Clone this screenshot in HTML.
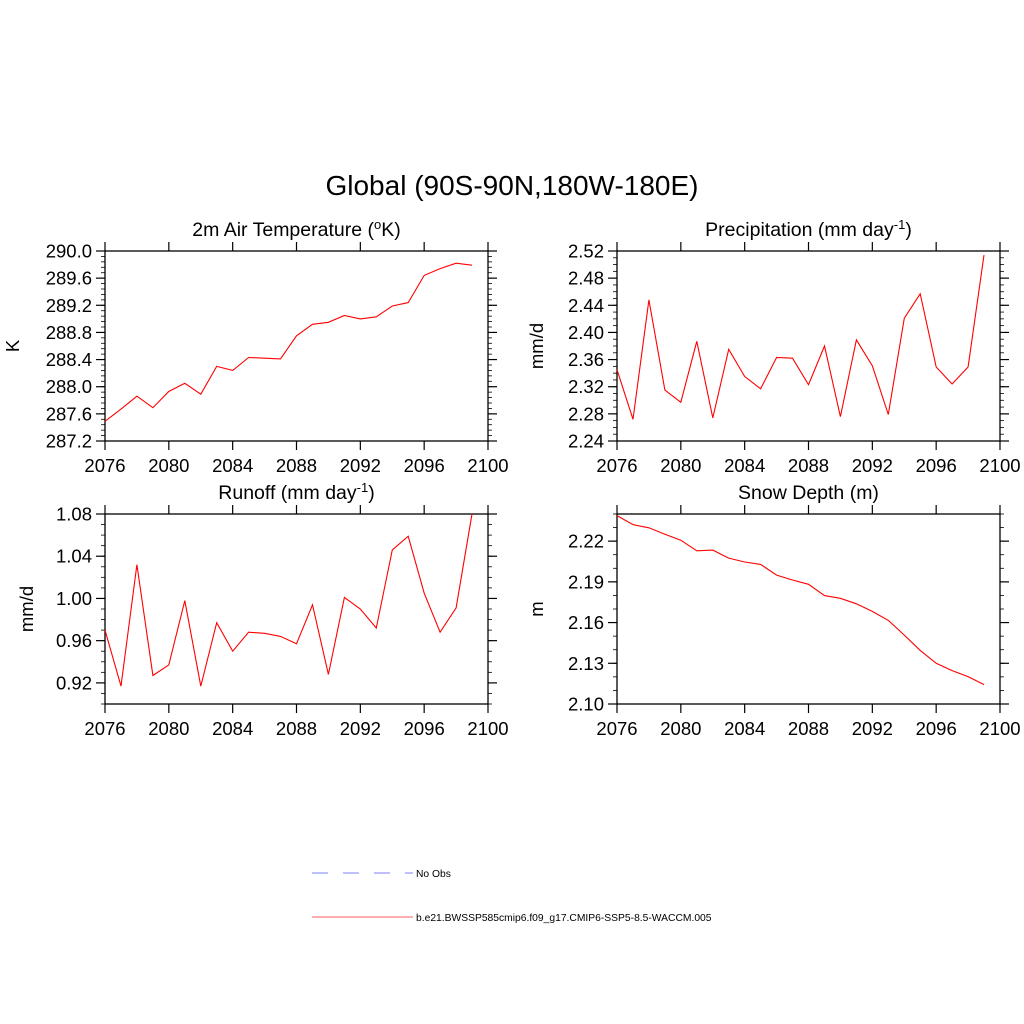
<!DOCTYPE html>
<html><head><meta charset="utf-8"><style>
html,body{margin:0;padding:0;background:#fff;}
svg{display:block;font-family:"Liberation Sans",sans-serif;}
</style></head><body>
<svg id="chart" width="1024" height="1024" viewBox="0 0 1024 1024" xmlns="http://www.w3.org/2000/svg">
<rect width="1024" height="1024" fill="#fff"/>
<text x="512" y="195" font-size="28" text-anchor="middle">Global (90S-90N,180W-180E)</text>
<g id="panels"></g>
<g>
<line x1="312" y1="873" x2="413" y2="873" stroke="#9999ff" stroke-width="1.2" stroke-dasharray="16,15"/>
<text x="416" y="877" font-size="10.3">No Obs</text>
<line x1="312" y1="917" x2="413" y2="917" stroke="#ff8080" stroke-width="1.2"/>
<text x="416" y="921" font-size="10.3">b.e21.BWSSP585cmip6.f09_g17.CMIP6-SSP5-8.5-WACCM.005</text>
</g>
</svg>
<script>
const years = [2076,2077,2078,2079,2080,2081,2082,2083,2084,2085,2086,2087,2088,2089,2090,2091,2092,2093,2094,2095,2096,2097,2098,2099];
const xTicks = [2076,2080,2084,2088,2092,2096,2100];
const tempVals = [287.49,287.67,287.86,287.69,287.93,288.05,287.89,288.30,288.24,288.43,288.42,288.41,288.75,288.92,288.95,289.05,289.00,289.03,289.19,289.24,289.64,289.74,289.82,289.79];
const tempTicks = ["287.2","287.6","288.0","288.4","288.8","289.2","289.6","290.0"];
const precVals = [2.345,2.272,2.448,2.315,2.297,2.387,2.274,2.375,2.335,2.317,2.363,2.362,2.323,2.380,2.276,2.389,2.351,2.279,2.421,2.457,2.349,2.324,2.349,2.514];
const precTicks = ["2.24","2.28","2.32","2.36","2.40","2.44","2.48","2.52"];
const runoffVals = [0.970,0.917,1.032,0.927,0.937,0.998,0.917,0.977,0.950,0.968,0.967,0.964,0.957,0.994,0.928,1.001,0.990,0.972,1.046,1.059,1.005,0.968,0.991,1.080];
const runoffTicks = ["0.92","0.96","1.00","1.04","1.08"];
const snowVals = [2.2388,2.2322,2.2298,2.2251,2.2207,2.2129,2.2134,2.2075,2.2046,2.2029,2.1950,2.1914,2.1882,2.1799,2.1779,2.1738,2.1682,2.1616,2.1508,2.1395,2.1300,2.1246,2.1202,2.1143];
const snowTicks = ["2.10","2.13","2.16","2.19","2.22"];

const NS="http://www.w3.org/2000/svg";
const root=document.getElementById('panels');
function mk(tag,attrs,parent){const e=document.createElementNS(NS,tag);for(const k in attrs)e.setAttribute(k,attrs[k]);parent.appendChild(e);return e;}

function panel(opt){
  const g=mk('g',{},root);
  
  
  const L=opt.x0,R=opt.x0+383,T=opt.y0,B=opt.y0+190;
  const xs=v=>L+(v-2076)/(2100-2076)*(R-L);
  const ys=v=>B-(v-opt.ymin)/(opt.ymax-opt.ymin)*(B-T);
  const frame=mk('rect',{x:L,y:T,width:R-L,height:B-T,fill:'none',stroke:'#000','stroke-width':1.3},g);
  
  
  const nm=Math.round((opt.ymax-opt.ymin)/opt.minor);
  for(let i=0;i<=nm;i++){const v=opt.ymin+i*opt.minor,y=ys(v);
    mk('line',{x1:L-4,y1:y,x2:L,y2:y,stroke:'#000','stroke-width':0.8},g);
    mk('line',{x1:R,y1:y,x2:R+4,y2:y,stroke:'#000','stroke-width':0.8},g);}
  opt.ticks.forEach(t=>{const y=ys(parseFloat(t));
    mk('line',{x1:L-9,y1:y,x2:L,y2:y,stroke:'#000','stroke-width':1.2},g);
    mk('line',{x1:R,y1:y,x2:R+9,y2:y,stroke:'#000','stroke-width':1.2},g);
    const tx=mk('text',{x:L-13,y:y+6.5,'font-size':18.5,'text-anchor':'end'},g);tx.textContent=t;
    
    });
  xTicks.forEach(t=>{const x=xs(t);
    mk('line',{x1:x,y1:B,x2:x,y2:B+9,stroke:'#000','stroke-width':1.2},g);
    mk('line',{x1:x,y1:T-9,x2:x,y2:T,stroke:'#000','stroke-width':1.2},g);
    const tx=mk('text',{x:x,y:B+31,'font-size':18.5,'text-anchor':'middle'},g);tx.textContent=t;
    
    });
  const ttl=mk('text',{x:(L+R)/2,y:T-15,'font-size':19.5,'text-anchor':'middle'},g);
  ttl.innerHTML=opt.title;
  
  
  const yl=mk('text',{x:0,y:0,'font-size':18.5,'text-anchor':'middle',transform:`translate(${opt.ylx},${(T+B)/2}) rotate(-90)`},g);
  yl.textContent=opt.ylabel;
  
  
  const pts=years.map((yr,i)=>xs(yr).toFixed(1)+','+ys(opt.vals[i]).toFixed(1)).join(' ');
  const line=mk('polyline',{points:pts,fill:'none',stroke:'#ff0000','stroke-width':1.1},g);
  
  
}
panel({name:'temperature-panel',x0:105,y0:251,ymin:287.2,ymax:290.0,minor:0.08,ticks:tempTicks,vals:tempVals,ylx:19,ylabel:'K',
  title:'2m Air Temperature (<tspan baseline-shift="super" font-size="13">o</tspan>K)'});
panel({name:'precipitation-panel',x0:617,y0:251,ymin:2.24,ymax:2.52,minor:0.01,ticks:precTicks,vals:precVals,ylx:543,ylabel:'mm/d',
  title:'Precipitation (mm day<tspan baseline-shift="super" font-size="13">-1</tspan>)'});
panel({name:'runoff-panel',x0:105,y0:514,ymin:0.90,ymax:1.08,minor:0.01,ticks:runoffTicks,vals:runoffVals,ylx:33,ylabel:'mm/d',
  title:'Runoff (mm day<tspan baseline-shift="super" font-size="13">-1</tspan>)'});
panel({name:'snow-depth-panel',x0:617,y0:514,ymin:2.10,ymax:2.24,minor:0.01,ticks:snowTicks,vals:snowVals,ylx:543,ylabel:'m',
  title:'Snow Depth (m)'});
</script>
</body></html>
